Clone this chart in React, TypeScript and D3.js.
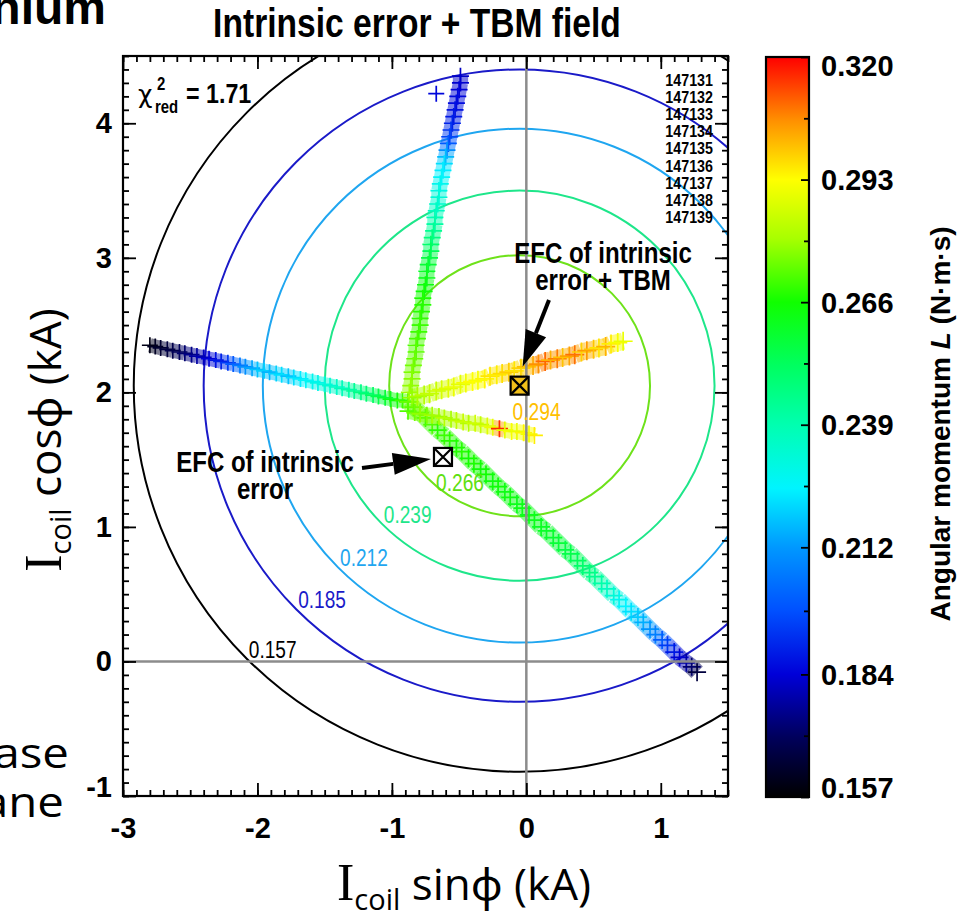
import { useEffect, useRef } from 'react'
import * as d3 from 'd3'

type Pt = [number, number, number]

// axis ticks
const xTickValues = [-3, -2, -1, 0, 1]
const yTickValues = [-1, 0, 1, 2, 3, 4]

// fitted contours of L around the fitted EFC point
const contourLevels = ['0.157', '0.185', '0.212', '0.239', '0.266']
const contourRadii = [2.87, 2.35, 1.91, 1.45, 0.97]
const contourColors = ['#000000', '#1a1ac8', '#1fa6f0', '#1ee68a', '#6ee21a']

const fitEfc = { x: -0.05, y: 2.05, label: '0.294', color: '#ffc000', fill: '#f2c01a' }
const intrinsicEfc = { x: -0.62, y: 1.52, label: '0.266', color: '#5ee010', fill: '#ffffff' }

const shotNumbers = ['147131', '147132', '147133', '147134', '147135', '147136', '147137', '147138', '147139']
const cbarLabels = ['0.157', '0.184', '0.212', '0.239', '0.266', '0.293', '0.320']

const cmapValues = [0.157, 0.17, 0.184, 0.198, 0.212, 0.225, 0.239, 0.252, 0.266, 0.28, 0.293, 0.306, 0.32]
const cmapColors = ['#000000', '#00005a', '#0000d8', '#0050ff', '#0098ff', '#00f4ff', '#00ffb0', '#00ff60', '#10ff00', '#a8ff00', '#ffff00', '#ff9000', '#ff0000']

// coil scans: [Icoil sin(phi), Icoil cos(phi), L]
const scanA: Pt[] = [
  [-2.8, 2.35, 0.16], [-2.76, 2.34, 0.162], [-2.72, 2.33, 0.164], [-2.67, 2.32, 0.166], [-2.63, 2.31, 0.168],
  [-2.58, 2.3, 0.17], [-2.54, 2.29, 0.172], [-2.49, 2.28, 0.175], [-2.45, 2.27, 0.178], [-2.4, 2.26, 0.181],
  [-2.36, 2.25, 0.184], [-2.31, 2.24, 0.187], [-2.27, 2.23, 0.19], [-2.22, 2.22, 0.194], [-2.18, 2.21, 0.2],
  [-2.13, 2.2, 0.206], [-2.09, 2.19, 0.21], [-2.04, 2.18, 0.214], [-2.0, 2.17, 0.218], [-1.95, 2.16, 0.22],
  [-1.91, 2.15, 0.216], [-1.86, 2.14, 0.22], [-1.82, 2.13, 0.222], [-1.77, 2.12, 0.218], [-1.73, 2.11, 0.222],
  [-1.68, 2.1, 0.224], [-1.64, 2.09, 0.226], [-1.59, 2.08, 0.228], [-1.55, 2.07, 0.229], [-1.5, 2.06, 0.231],
  [-1.46, 2.05, 0.233], [-1.41, 2.04, 0.235], [-1.37, 2.03, 0.237], [-1.32, 2.02, 0.24], [-1.28, 2.01, 0.243],
  [-1.23, 2.0, 0.246], [-1.19, 1.99, 0.249], [-1.14, 1.98, 0.252], [-1.1, 1.97, 0.255], [-1.05, 1.96, 0.258],
  [-1.01, 1.95, 0.262], [-0.96, 1.94, 0.265], [-0.92, 1.94, 0.27], [-0.88, 1.93, 0.274],
]

const scanB: Pt[] = [
  [-0.49, 4.35, 0.182], [-0.49, 4.3, 0.183], [-0.5, 4.25, 0.184], [-0.51, 4.2, 0.185], [-0.52, 4.15, 0.186],
  [-0.53, 4.1, 0.187], [-0.54, 4.05, 0.188], [-0.55, 4.0, 0.19], [-0.56, 3.95, 0.193], [-0.57, 3.9, 0.196],
  [-0.58, 3.85, 0.2], [-0.59, 3.8, 0.21], [-0.6, 3.75, 0.217], [-0.61, 3.7, 0.222], [-0.62, 3.65, 0.224],
  [-0.63, 3.6, 0.226], [-0.64, 3.55, 0.228], [-0.65, 3.5, 0.23], [-0.65, 3.45, 0.232], [-0.66, 3.4, 0.234],
  [-0.67, 3.35, 0.236], [-0.68, 3.3, 0.238], [-0.68, 3.25, 0.241], [-0.69, 3.2, 0.244], [-0.7, 3.15, 0.247],
  [-0.71, 3.1, 0.25], [-0.71, 3.05, 0.253], [-0.72, 3.0, 0.256], [-0.73, 2.95, 0.258], [-0.74, 2.9, 0.26],
  [-0.74, 2.85, 0.262], [-0.75, 2.8, 0.264], [-0.76, 2.75, 0.265], [-0.77, 2.7, 0.267], [-0.77, 2.65, 0.268],
  [-0.78, 2.6, 0.268], [-0.79, 2.55, 0.269], [-0.79, 2.5, 0.27], [-0.8, 2.45, 0.27], [-0.81, 2.4, 0.271],
  [-0.82, 2.35, 0.272], [-0.82, 2.3, 0.273], [-0.83, 2.25, 0.274], [-0.84, 2.2, 0.275], [-0.85, 2.15, 0.276],
  [-0.85, 2.1, 0.277], [-0.86, 2.05, 0.278], [-0.87, 2.0, 0.279],
]
const strayPoint: Pt = [-0.67, 4.22, 0.185]

const scanC: Pt[] = [
  [-0.88, 1.93, 0.276], [-0.84, 1.89, 0.274], [-0.79, 1.85, 0.272], [-0.75, 1.81, 0.27], [-0.7, 1.76, 0.272],
  [-0.66, 1.72, 0.268], [-0.61, 1.68, 0.27], [-0.57, 1.64, 0.268], [-0.52, 1.59, 0.267], [-0.48, 1.56, 0.268],
  [-0.43, 1.51, 0.266], [-0.39, 1.47, 0.267], [-0.34, 1.43, 0.265], [-0.3, 1.39, 0.266], [-0.25, 1.34, 0.264],
  [-0.21, 1.3, 0.265], [-0.16, 1.26, 0.263], [-0.12, 1.22, 0.264], [-0.07, 1.17, 0.262], [-0.03, 1.14, 0.263],
  [0.02, 1.09, 0.262], [0.06, 1.05, 0.262], [0.11, 1.0, 0.261], [0.15, 0.97, 0.26], [0.2, 0.92, 0.259],
  [0.24, 0.88, 0.258], [0.29, 0.83, 0.256], [0.33, 0.8, 0.255], [0.38, 0.75, 0.253], [0.42, 0.71, 0.25],
  [0.47, 0.66, 0.247], [0.51, 0.63, 0.244], [0.56, 0.58, 0.24], [0.6, 0.54, 0.236], [0.65, 0.49, 0.232],
  [0.69, 0.46, 0.228], [0.74, 0.41, 0.225], [0.78, 0.37, 0.222], [0.83, 0.33, 0.219], [0.87, 0.29, 0.215],
  [0.92, 0.24, 0.211], [0.96, 0.2, 0.207], [1.01, 0.16, 0.2], [1.05, 0.12, 0.194], [1.1, 0.07, 0.188],
  [1.14, 0.03, 0.183], [1.19, -0.01, 0.178], [1.23, -0.04, 0.172], [1.27, -0.08, 0.166],
]

const scanD: Pt[] = [
  [-0.85, 1.96, 0.278], [-0.81, 1.97, 0.28], [-0.76, 1.98, 0.282], [-0.72, 1.99, 0.284], [-0.67, 2.01, 0.285],
  [-0.63, 2.02, 0.287], [-0.58, 2.03, 0.288], [-0.54, 2.04, 0.29], [-0.49, 2.06, 0.289], [-0.45, 2.07, 0.291],
  [-0.4, 2.08, 0.293], [-0.36, 2.09, 0.292], [-0.31, 2.1, 0.294], [-0.27, 2.12, 0.296], [-0.22, 2.13, 0.295],
  [-0.18, 2.14, 0.297], [-0.13, 2.15, 0.299], [-0.09, 2.16, 0.296], [-0.04, 2.18, 0.298], [0.0, 2.19, 0.3],
  [0.05, 2.2, 0.303], [0.09, 2.21, 0.306], [0.14, 2.23, 0.31], [0.18, 2.24, 0.302], [0.23, 2.25, 0.308],
  [0.27, 2.26, 0.3], [0.32, 2.27, 0.304], [0.36, 2.28, 0.309], [0.41, 2.3, 0.298], [0.45, 2.31, 0.305],
  [0.5, 2.32, 0.3], [0.54, 2.33, 0.296], [0.59, 2.34, 0.302], [0.63, 2.36, 0.295], [0.68, 2.37, 0.292],
  [0.72, 2.38, 0.29],
]

const scanE: Pt[] = [
  [-0.88, 1.86, 0.272], [-0.83, 1.85, 0.275], [-0.79, 1.84, 0.278], [-0.74, 1.83, 0.276], [-0.7, 1.83, 0.28],
  [-0.65, 1.82, 0.279], [-0.61, 1.81, 0.282], [-0.56, 1.8, 0.28], [-0.52, 1.79, 0.283], [-0.47, 1.78, 0.285],
  [-0.43, 1.77, 0.282], [-0.38, 1.77, 0.286], [-0.34, 1.76, 0.284], [-0.29, 1.75, 0.288], [-0.25, 1.74, 0.29],
  [-0.2, 1.73, 0.316], [-0.16, 1.72, 0.289], [-0.11, 1.71, 0.292], [-0.07, 1.71, 0.29], [-0.02, 1.7, 0.294],
  [0.02, 1.69, 0.291], [0.06, 1.68, 0.295],
]

const sans = "'Liberation Sans', Arial, sans-serif"
const gothic = "'Open Sans', 'Noto Sans', 'DejaVu Sans', sans-serif"

export default function App() {
  const ref = useRef<SVGSVGElement>(null)

  useEffect(() => {
    if (!ref.current) return
    const svg = d3.select(ref.current)
    svg.selectAll('*').remove()

    const left = 123, right = 728, top = 56, bottom = 796
    const x = d3.scaleLinear().domain([-3, 1.5]).range([left, right])
    const y = d3.scaleLinear().domain([-1, 4.5]).range([bottom, top])
    const color = d3.scaleLinear<string>().domain(cmapValues).range(cmapColors).interpolate(d3.interpolateRgb).clamp(true)

    // condensed text (no narrow face installed, so squeeze horizontally)
    const narrowText = (parent: any, tx: number, ty: number, str: string, size: number, opts: any = {}) =>
      parent.append('text')
        .attr('transform', `translate(${tx},${ty}) scale(${opts.sx ?? 0.83},1)`)
        .attr('text-anchor', opts.anchor ?? 'start')
        .attr('font-family', sans).attr('font-weight', opts.weight ?? 'bold')
        .attr('font-size', size).attr('fill', opts.fill ?? '#000').text(str)

    const defs = svg.append('defs')
    defs.append('clipPath').attr('id', 'plot-clip')
      .append('rect').attr('x', left).attr('y', top).attr('width', right - left).attr('height', bottom - top)

    const plot = svg.append('g').attr('clip-path', 'url(#plot-clip)')

    // contour circles
    const cx = x(fitEfc.x), cy = y(fitEfc.y)
    contourRadii.forEach((r, i) => {
      plot.append('ellipse')
        .attr('cx', cx).attr('cy', cy)
        .attr('rx', x(r) - x(0)).attr('ry', y(0) - y(r))
        .attr('fill', 'none').attr('stroke', contourColors[i]).attr('stroke-width', 2)
      if (i < 4) {
        const d = r * Math.SQRT1_2
        narrowText(plot, x(fitEfc.x - d) + 2, y(fitEfc.y - d) - 1, contourLevels[i], 23,
          { weight: 'normal', fill: contourColors[i] })
      }
    })

    // scans: a light band under the + markers
    const drawScan = (pts: Pt[], size: number) => {
      const g = plot.append('g')
      g.selectAll('line').data(d3.pairs(pts)).join('line')
        .attr('x1', ([a]) => x(a[0])).attr('y1', ([a]) => y(a[1]))
        .attr('x2', ([, b]) => x(b[0])).attr('y2', ([, b]) => y(b[1]))
        .attr('stroke', ([a, b]) => color((a[2] + b[2]) / 2))
        .attr('stroke-width', size * 0.9).attr('opacity', 0.5)
      g.selectAll('path').data(pts).join('path')
        .attr('d', (d) => `M${x(d[0]) - size / 2},${y(d[1])}h${size}M${x(d[0])},${y(d[1]) - size / 2}v${size}`)
        .attr('stroke', (d) => color(d[2])).attr('stroke-width', 1.7).attr('fill', 'none')
    }
    drawScan(scanC, 18)
    drawScan(scanA, 16)
    drawScan(scanB, 17)
    drawScan(scanD, 19)
    drawScan(scanE, 17)
    plot.append('path')
      .attr('d', `M${x(strayPoint[0]) - 8},${y(strayPoint[1])}h16M${x(strayPoint[0])},${y(strayPoint[1]) - 8}v16`)
      .attr('stroke', color(strayPoint[2])).attr('stroke-width', 1.7)

    // zero lines
    plot.append('line').attr('x1', x(0)).attr('x2', x(0)).attr('y1', top).attr('y2', bottom)
      .attr('stroke', '#8c8c8c').attr('stroke-width', 2.5)
    plot.append('line').attr('x1', left).attr('x2', right).attr('y1', y(0)).attr('y2', y(0))
      .attr('stroke', '#8c8c8c').attr('stroke-width', 2.5)

    // EFC markers
    ;[fitEfc, intrinsicEfc].forEach((m) => {
      const mx = x(m.x), my = y(m.y), h = 9
      svg.append('rect').attr('x', mx - h).attr('y', my - h).attr('width', 2 * h).attr('height', 2 * h)
        .attr('fill', m.fill).attr('stroke', '#000').attr('stroke-width', 2.2)
      svg.append('path').attr('d', `M${mx - h},${my - h}L${mx + h},${my + h}M${mx + h},${my - h}L${mx - h},${my + h}`)
        .attr('stroke', '#000').attr('stroke-width', 2.2)
      narrowText(svg, mx - 7, my + 34, m.label, 24, { weight: 'normal', fill: m.color, sx: 0.8 })
    })

    // annotations with arrows
    const arrow = (x1: number, y1: number, x2: number, y2: number, len: number, wid: number) => {
      const a = Math.atan2(y2 - y1, x2 - x1)
      const bx = x2 - len * Math.cos(a), by = y2 - len * Math.sin(a)
      const px = -Math.sin(a) * wid / 2, py = Math.cos(a) * wid / 2
      svg.append('line').attr('x1', x1).attr('y1', y1).attr('x2', bx).attr('y2', by)
        .attr('stroke', '#000').attr('stroke-width', 4)
      svg.append('path').attr('d', `M${x2},${y2}L${bx + px},${by + py}L${bx - px},${by - py}Z`).attr('fill', '#000')
    }
    arrow(549, 300, x(fitEfc.x) + 3, y(fitEfc.y) - 19, 36, 22)
    arrow(362, 468, x(intrinsicEfc.x) - 12, y(intrinsicEfc.y) + 2, 38, 22)

    const note = (lines: string[], tx: number, ty: number) => {
      lines.forEach((t, i) => narrowText(svg, tx, ty + i * 27, t, 29, { anchor: 'middle' }))
    }
    note(['EFC of intrinsic', 'error + TBM'], 603, 263)
    note(['EFC of intrinsic', 'error'], 265, 472)

    // chi-squared
    svg.append('text').attr('x', 138).attr('y', 103)
      .attr('font-family', "'DejaVu Sans', sans-serif").attr('font-size', 25).text('χ')
    narrowText(svg, 157, 90, '2', 18)
    narrowText(svg, 155, 113, 'red', 18)
    narrowText(svg, 186, 103, '= 1.71', 28)

    // shot list
    shotNumbers.forEach((s, i) => narrowText(svg, 713, 86 + i * 17.1, s, 17, { anchor: 'end', sx: 0.84 }))

    // axes: inward ticks on all four sides
    const minorX = d3.range(-30, 16).map((v) => v / 10)
    const minorY = d3.range(-10, 46).map((v) => v / 10)
    const styleAxis = (s: any) => {
      s.select('.domain').remove()
      s.selectAll('.tick line').attr('stroke', '#000').attr('stroke-width', 1.8)
      s.selectAll('.tick text').attr('fill', '#000').attr('font-family', sans).attr('font-weight', 'bold').attr('font-size', 29)
    }
    const fmt = (d: any) => String(d)
    const blank = () => ''
    svg.append('g').attr('transform', `translate(0,${bottom})`)
      .call(d3.axisBottom(x).tickValues(minorX).tickSize(-6).tickFormat(blank)).call(styleAxis)
    svg.append('g').attr('transform', `translate(0,${bottom})`)
      .call(d3.axisBottom(x).tickValues(xTickValues).tickSize(-13).tickPadding(21).tickFormat(fmt)).call(styleAxis)
    svg.append('g').attr('transform', `translate(0,${top})`)
      .call(d3.axisTop(x).tickValues(minorX).tickSize(-6).tickFormat(blank)).call(styleAxis)
    svg.append('g').attr('transform', `translate(0,${top})`)
      .call(d3.axisTop(x).tickValues(xTickValues).tickSize(-13).tickFormat(blank)).call(styleAxis)
    svg.append('g').attr('transform', `translate(${left},0)`)
      .call(d3.axisLeft(y).tickValues(minorY).tickSize(-6).tickFormat(blank)).call(styleAxis)
    svg.append('g').attr('transform', `translate(${left},0)`)
      .call(d3.axisLeft(y).tickValues(yTickValues).tickSize(-13).tickPadding(11).tickFormat(fmt)).call(styleAxis)
      // the lowest label sits just above the bottom frame line
      .call((s: any) => s.selectAll('.tick text').filter((d: any) => d === yTickValues[0]).attr('dy', '0.0em'))
    svg.append('g').attr('transform', `translate(${right},0)`)
      .call(d3.axisRight(y).tickValues(minorY).tickSize(-6).tickFormat(blank)).call(styleAxis)
    svg.append('g').attr('transform', `translate(${right},0)`)
      .call(d3.axisRight(y).tickValues(yTickValues).tickSize(-13).tickFormat(blank)).call(styleAxis)

    svg.append('rect').attr('x', left).attr('y', top).attr('width', right - left).attr('height', bottom - top)
      .attr('fill', 'none').attr('stroke', '#000').attr('stroke-width', 2.2)

    // colorbar
    const cbL = 766, cbW = 43, cbTop = 57, cbBot = 797
    const cbY = d3.scaleLinear().domain([0.157, 0.32]).range([cbBot, cbTop])
    const grad = defs.append('linearGradient').attr('id', 'cbar').attr('x1', 0).attr('y1', 1).attr('x2', 0).attr('y2', 0)
    cmapValues.forEach((v, i) => {
      grad.append('stop').attr('offset', (v - 0.157) / (0.32 - 0.157)).attr('stop-color', cmapColors[i])
    })
    svg.append('rect').attr('x', cbL).attr('y', cbTop).attr('width', cbW).attr('height', cbBot - cbTop)
      .attr('fill', 'url(#cbar)').attr('stroke', '#000').attr('stroke-width', 2.2)
    const cbVals = cbarLabels.map(Number)
    const cbMinor = d3.pairs(cbVals).map(([a, b]) => (a + b) / 2)
    svg.append('g').attr('transform', `translate(${cbL + cbW},0)`)
      .call(d3.axisRight(cbY).tickValues(cbMinor).tickSize(-5).tickFormat(blank)).call(styleAxis)
    svg.append('g').attr('transform', `translate(${cbL + cbW},0)`)
      .call(d3.axisRight(cbY).tickValues(cbVals).tickSize(-8).tickFormat(blank)).call(styleAxis)
    cbarLabels.forEach((t) => {
      const ty = Math.min(Math.max(cbY(Number(t)), cbTop + 9), cbBot - 9)
      svg.append('text').attr('x', 821).attr('y', ty).attr('dy', '0.36em')
        .attr('font-family', sans).attr('font-weight', 'bold').attr('font-size', 29).text(t)
    })
    const cbTitle = svg.append('text').attr('transform', 'translate(950,424) rotate(-90)').attr('text-anchor', 'middle')
      .attr('font-family', sans).attr('font-weight', 'bold').attr('font-size', 28)
    cbTitle.append('tspan').text('Angular momentum ')
    cbTitle.append('tspan').attr('font-style', 'italic').text('L')
    cbTitle.append('tspan').text(' (N·m·s)')

    // title
    narrowText(svg, 417, 37, 'Intrinsic error + TBM field', 40, { anchor: 'middle', sx: 0.84 })

    // axis titles
    const axisTitle = (g: any, rest: string) => {
      const t = g.append('text').attr('text-anchor', 'middle')
      t.append('tspan').attr('font-family', "'Liberation Serif', serif").attr('font-size', 52).text('I')
      t.append('tspan').attr('font-family', gothic).attr('font-size', 29).attr('dy', 10).text('coil')
      t.append('tspan').attr('font-family', gothic).attr('font-size', 44).attr('dy', -10).text(rest)
    }
    axisTitle(svg.append('g').attr('transform', 'translate(464,900)'), ' sinϕ (kA)')
    axisTitle(svg.append('g').attr('transform', 'translate(61,440) rotate(-90)'), ' cosϕ (kA)')

    // slide fragments cut by the page edge
    svg.append('text').attr('x', 106).attr('y', 24).attr('text-anchor', 'end')
      .attr('font-family', sans).attr('font-weight', 'bold').attr('font-size', 48).text('nium')
    svg.append('text').attr('transform', 'translate(69,768) scale(1.13,1)').attr('text-anchor', 'end')
      .attr('font-family', gothic).attr('font-size', 42).text('phase')
    svg.append('text').attr('transform', 'translate(64,817) scale(1.13,1)').attr('text-anchor', 'end')
      .attr('font-family', gothic).attr('font-size', 42).text('plane')
  }, [])

  return (
    <div style={{ position: 'absolute', left: 0, top: 0, width: 963, height: 914, background: '#fff' }}>
      <svg ref={ref} width={963} height={914} style={{ display: 'block' }} />
    </div>
  )
}
